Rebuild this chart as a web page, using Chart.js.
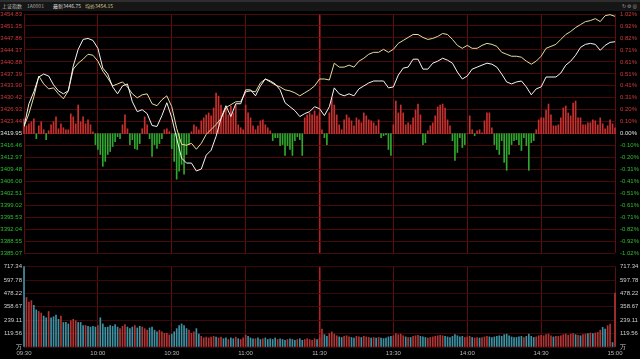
<!DOCTYPE html>
<html><head><meta charset="utf-8">
<script src="https://cdn.jsdelivr.net/npm/chart.js@4.4.1/dist/chart.umd.min.js"></script>
<style>
html,body{margin:0;padding:0;background:#000;width:640px;height:359px;overflow:hidden;}
#c1{position:absolute;left:0;top:0}
#c2{position:absolute;left:0;top:258px}
#hdr{position:absolute;left:0;top:0;width:640px;height:11px;background:#161616;border-top:2px solid #2e2e2e;box-sizing:border-box;font-family:"Noto Sans CJK SC","Liberation Sans",sans-serif;font-size:5px;line-height:8px;white-space:nowrap;color:#bdbdbd}
#hdr span{position:absolute;top:0}
</style></head><body>
<canvas id="c1" width="640" height="262"></canvas>
<canvas id="c2" width="640" height="101"></canvas>
<div id="hdr"><span style="left:2px">上证指数</span><span style="left:27px;color:#a8a8a8">1A0001</span><span style="left:53px;color:#d8d8d8">最新3446.75</span><span style="left:85px;color:#d9d08e">均价3454.15</span><span style="left:622px;color:#9a9a9a">↻ ⚙ ⊗</span></div>
<script>
const prevClose = 3419.95;
const priceTicks = [3454.83,3451.35,3447.86,3444.37,3440.88,3437.39,3433.90,3430.42,3426.93,3423.44,3419.95,3416.46,3412.97,3409.48,3406.00,3402.51,3399.02,3395.53,3392.04,3388.55,3385.07];
const volTicks = [717.34,597.78,478.22,358.67,239.11,119.56,0];
const volTickLabels = ['717.34','597.78','478.22','358.67','239.11','119.56','万'];
const timeLabels = ['09:30','10:00','10:30','11:00','11:30','13:30','14:00','14:30','15:00'];
const lineStep = 2;

// 最新 (white) price, one value every 2 minutes
const priceLast = [3422.05,3428.68,3432.14,3436.47,3437.33,3436.76,3434.16,3432.43,3431.57,3432.43,
3439.64,3444.54,3447.42,3447.71,3447.13,3444.83,3439.06,3437.33,3433.58,3431.57,
3433.87,3434.45,3429.26,3426.38,3426.95,3425.80,3422.34,3422.05,3425.23,3428.97,
3424.65,3418.60,3412.83,3411.39,3411.39,3409.08,3409.66,3413.70,3415.14,3419.17,
3424.36,3428.11,3424.94,3428.68,3428.68,3432.72,3432.72,3430.99,3433.87,3435.89,
3435.31,3434.45,3432.72,3428.97,3427.82,3426.67,3424.94,3425.80,3426.38,3427.82,
3427.24,3425.23,3427.82,3433.30,3431.57,3430.99,3431.57,3430.99,3433.01,3433.87,
3434.74,3435.31,3435.31,3435.31,3433.30,3433.58,3437.04,3439.06,3439.35,3441.66,
3441.66,3438.77,3438.77,3440.50,3441.08,3441.94,3441.37,3440.50,3437.91,3435.89,
3436.76,3438.77,3439.35,3439.93,3440.50,3440.21,3439.35,3437.33,3435.03,3434.45,
3435.03,3435.31,3433.58,3431.28,3433.01,3433.58,3436.47,3436.47,3436.47,3437.62,
3439.93,3441.08,3442.81,3445.11,3445.98,3446.27,3445.98,3444.25,3445.69,3446.56,
3446.75];
// yellow line, one value every 2 minutes
const priceAvg = [3422.05,3425.80,3430.70,3436.76,3434.45,3433.01,3433.30,3431.57,3430.13,3432.43,
3438.77,3440.50,3441.66,3443.10,3442.81,3441.08,3438.20,3436.18,3433.87,3434.45,
3435.03,3433.58,3431.57,3430.41,3431.28,3431.57,3428.68,3428.11,3429.84,3430.99,
3427.82,3421.48,3416.87,3416.58,3417.15,3415.42,3417.15,3419.75,3421.19,3422.63,
3424.36,3427.53,3428.40,3429.26,3429.26,3432.14,3432.43,3432.14,3434.74,3435.89,
3435.03,3434.16,3433.58,3432.72,3432.43,3431.86,3430.99,3431.86,3432.72,3433.87,
3435.89,3435.89,3435.60,3440.50,3439.35,3439.35,3439.93,3439.35,3441.08,3441.94,
3443.10,3443.67,3443.67,3444.54,3443.67,3444.54,3446.27,3447.13,3448.00,3448.86,
3448.86,3448.00,3447.42,3447.71,3448.29,3449.15,3448.86,3447.42,3445.69,3444.83,
3445.69,3444.83,3444.83,3445.69,3446.27,3445.98,3445.40,3443.67,3443.10,3442.52,
3442.52,3442.23,3441.08,3440.21,3441.08,3442.52,3444.83,3445.40,3445.98,3447.42,
3448.86,3449.73,3450.88,3451.75,3452.61,3452.90,3453.48,3452.61,3454.34,3454.63,
3454.15];
// red/green strength bars, one per minute
const breadth = [15,8,10,12,15,-5,8,12,4,-6,
3,9,12,17,5,10,6,4,4,20,
17,10,29,12,17,10,14,9,2,-11,
-16,-21,-33,-28,-21,-18,-13,-8,-3,-5,
9,19,5,-11,-6,-15,-16,-10,5,17,
9,-5,-23,-11,-15,-10,-5,4,5,2,
-15,-28,-46,-38,-31,-41,-21,-11,2,9,
7,4,13,16,19,21,18,26,41,38,
29,23,26,19,28,21,29,9,6,4,
29,21,16,8,4,8,13,14,9,6,
3,-7,-4,-4,-12,-11,-22,-12,-16,-22,
-7,-3,-6,-22,16,19,21,19,23,18,
21,4,-4,-11,21,36,29,19,9,4,
14,19,16,13,8,16,14,11,21,18,
14,13,11,8,14,-4,-2,-1,-16,-22,
9,33,21,29,21,9,11,9,16,24,
30,19,-11,-9,3,8,11,18,27,29,
30,26,14,8,-7,-27,-19,-4,-14,-11,
0,18,4,-2,3,4,1,13,21,21,
6,-11,-16,-21,-7,-29,-37,-21,-11,-7,
-6,-11,-17,-4,-12,-37,-9,-7,4,14,
16,16,24,30,19,8,8,9,16,26,
28,21,18,31,33,16,16,9,9,11,
11,14,13,9,16,10,5,8,14,10,
6];
// volume per minute
const volume = [717,442,400,414,372,331,317,303,276,261,
317,261,270,285,247,276,219,219,206,234,
247,234,219,219,192,192,185,178,185,178,
192,261,206,175,178,192,185,200,178,164,
185,200,178,164,178,192,170,185,178,164,
150,170,178,150,136,150,136,122,122,108,
115,136,164,192,206,192,164,150,122,136,
164,115,95,81,88,81,88,95,88,81,
88,74,81,67,81,74,88,74,67,81,
108,95,81,74,74,81,67,74,81,67,
74,67,81,67,74,67,60,67,74,67,
60,67,74,60,67,74,67,60,74,67,
81,
160,110,95,120,135,115,100,90,85,
95,100,90,85,80,95,90,85,95,90,
85,80,85,80,85,80,75,80,90,95,
100,120,110,115,100,90,85,85,95,100,
105,95,90,85,80,85,90,95,100,105,
100,95,90,85,95,110,100,90,95,85,
90,95,85,80,85,80,85,90,95,90,
85,90,95,100,95,110,115,100,90,85,
85,90,95,85,95,115,95,85,90,100,
105,100,110,115,100,90,95,95,100,110,
115,105,115,120,110,105,100,110,115,120,
125,120,125,130,150,175,160,190,205,40,
480];
// 1 = up minute (red), 0 = down minute (teal)
const volUp = [0,1,1,1,0,0,1,1,0,0, 1,0,0,0,0,1,0,0,0,1, 1,1,0,0,0,1,0,0,0,0, 1,0,0,0,0,0,0,0,0,1,
1,1,0,0,0,1,0,0,1,1, 1,0,0,0,0,1,1,1,1,1, 0,0,0,0,0,0,0,1,1,1, 0,0,1,1,1,1,1,1,0,1,
1,0,0,1,0,0,1,0,1,1, 1,0,0,0,1,0,0,1,0,0, 0,0,0,1,0,0,0,1,0,0, 0,1,0,0,1,1,1,1,1,0,
1, 1,0,0,1,1,1,1,0,0,
1,1,1,0,0,1,1,0,1,1, 1,0,1,0,1,0,0,0,0,0, 1,1,1,1,1,0,1,0,1,1, 1,0,0,0,1,1,1,1,1,1,
1,0,0,0,0,0,0,0,0,1, 1,1,0,1,1,0,1,1,1,0, 0,0,0,0,0,0,0,0,0,0, 0,0,0,1,0,0,0,0,1,1,
1,1,1,1,1,0,1,1,1,1, 1,1,1,1,0,1,0,1,1,0, 1,0,1,1,1,0,0,1,1,0, 1];

const F = '"Liberation Sans", Arial, sans-serif';
const RED = '#d23a3a', GREEN = '#2fbf2f';

function xScale(showLabels){
  return {
    type:'linear', min:0, max:240, offset:false,
    afterBuildTicks: s => { s.ticks = timeLabels.map((t,i)=>({value:i*30})); },
    afterFit: s => { s.height = showLabels ? 12 : 0; },
    ticks:{display:showLabels, autoSkip:false, maxRotation:0, padding:3,
      font:{size:6, family:F}, color:'#b8b8b8',
      callback:(v,i)=>timeLabels[i]},
    grid:{drawTicks:false, offset:false,
      color: c => c.tick && c.tick.value===120 ? '#c01c1c' : '#5e0e0e',
      lineWidth: c => c.tick && c.tick.value===120 ? 1.5 : 1},
    border:{display:false}
  };
}

const ascPrice = [...priceTicks].sort((a,b)=>a-b);
function priceColor(v){
  if (Math.abs(v-prevClose) < 0.005) return '#e0e0e0';
  return v > prevClose ? RED : GREEN;
}

new Chart(document.getElementById('c1'), {
  data:{datasets:[
    {type:'line', label:'最新', data: priceLast.map((v,i)=>({x:i*lineStep,y:v})),
     borderColor:'#f4f4f4', borderWidth:1, pointRadius:0, tension:0, yAxisID:'y', order:0},
    {type:'line', label:'均价', data: priceAvg.map((v,i)=>({x:i*lineStep,y:v})),
     borderColor:'#e6dc9c', borderWidth:1, pointRadius:0, tension:0, yAxisID:'y', order:1},
    {type:'bar', label:'强弱', data: breadth.map((v,i)=>({x:i,y:v})),
     backgroundColor: breadth.map(v=> v>=0 ? '#c8302e' : '#2ea82e'),
     barThickness:1, yAxisID:'yb', order:2, clip:false}
  ]},
  options:{
    responsive:false, animation:false,
    layout:{padding:{top:14,bottom:6,left:0,right:0}},
    plugins:{legend:{display:false}, tooltip:{enabled:false}},
    scales:{
      x: xScale(false),
      y:{position:'left', min:3385.07, max:3454.83,
        afterBuildTicks: s => { s.ticks = ascPrice.map(v=>({value:v})); },
        afterFit: s => { s.width = 24; },
        ticks:{autoSkip:false, padding:2, font:{size:6, family:F},
          color: c => priceColor(c.tick.value),
          callback: v => v.toFixed(2)},
        grid:{drawTicks:false, color:'#4a0a0a'},
        border:{display:false}},
      y2:{position:'right', min:3385.07, max:3454.83,
        afterBuildTicks: s => { s.ticks = ascPrice.map(v=>({value:v})); },
        afterFit: s => { s.width = 25; },
        ticks:{autoSkip:false, padding:5, font:{size:6, family:F},
          color: c => priceColor(c.tick.value),
          callback: v => ((v-prevClose)/prevClose*100).toFixed(2)+'%'},
        grid:{display:false, drawTicks:false},
        border:{display:false}},
      yb:{display:false, min:-121, max:121}
    }
  }
});

new Chart(document.getElementById('c2'), {
  data:{datasets:[
    {type:'bar', label:'成交量', data: volume.map((v,i)=>({x:i,y:v})),
     backgroundColor: volUp.map(u=> u ? '#b23434' : '#3d92a4'),
     barThickness:1, yAxisID:'y', clip:false}
  ]},
  options:{
    responsive:false, animation:false,
    layout:{padding:{top:4,bottom:0,left:0,right:0}},
    plugins:{legend:{display:false}, tooltip:{enabled:false}},
    scales:{
      x: xScale(true),
      y:{position:'left', min:0, max:717.34,
        afterBuildTicks: s => { s.ticks = [...volTicks].reverse().map(v=>({value:v})); },
        afterFit: s => { s.width = 24; },
        ticks:{autoSkip:false, padding:2, font:{size:6, family:F}, color:'#cfcfcf',
          callback: v => volTickLabels[volTicks.indexOf(v)]},
        grid:{drawTicks:false, color:'#3e0808'},
        border:{display:false}},
      y2:{position:'right', min:0, max:717.34,
        afterBuildTicks: s => { s.ticks = [...volTicks].reverse().map(v=>({value:v})); },
        afterFit: s => { s.width = 25; },
        ticks:{autoSkip:false, padding:5, font:{size:6, family:F}, color:'#cfcfcf',
          callback: v => volTickLabels[volTicks.indexOf(v)]},
        grid:{display:false, drawTicks:false},
        border:{display:false}}
    }
  }
});
</script>
</body></html>
